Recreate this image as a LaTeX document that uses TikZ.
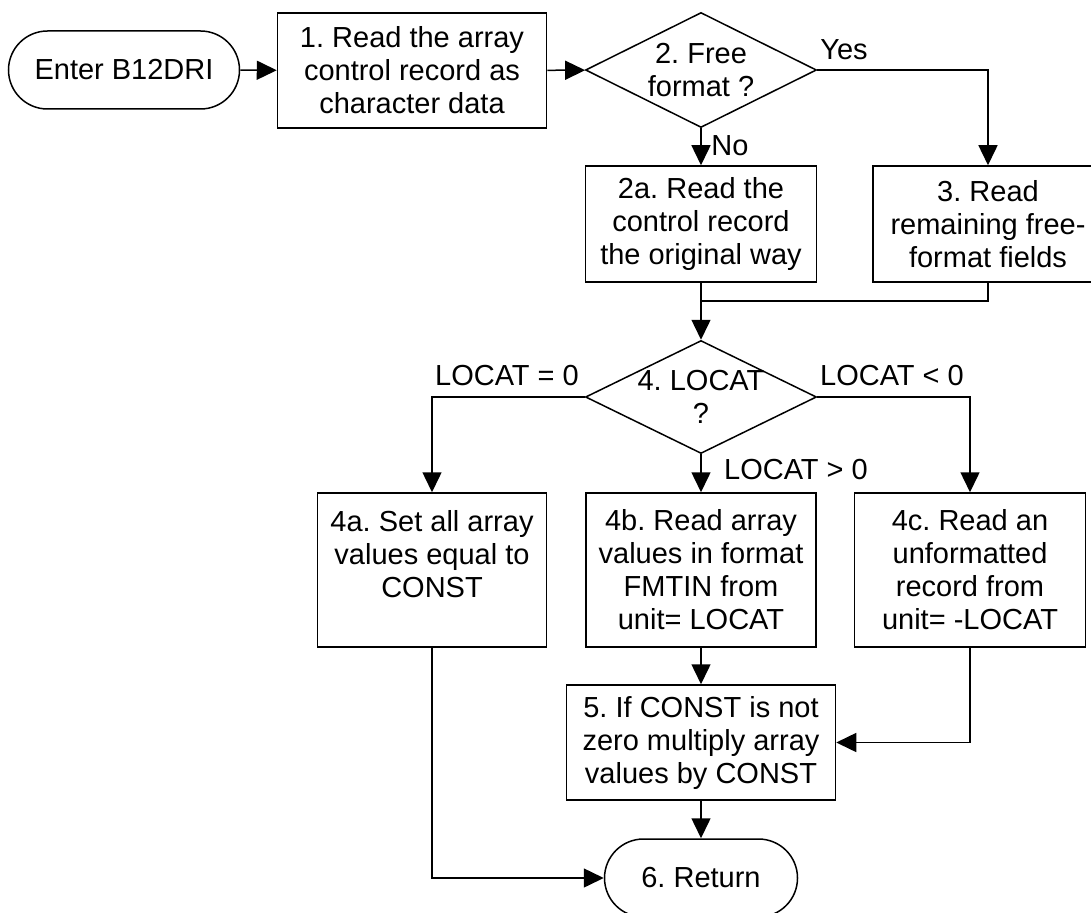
\documentclass[tikz,border=0pt]{standalone}
\usepackage{fontspec}
\setmainfont{Liberation Sans}
\usetikzlibrary{arrows.meta,shapes.geometric}

\begin{document}
\frenchspacing
\begin{tikzpicture}[x=1pt,y=-1pt,
  every node/.style={font=\fontsize{29}{33}\selectfont},
  box/.style={draw, line width=1.5pt, align=center, inner sep=0pt},
  proc/.style={box, rectangle},
  term/.style={box, rectangle, rounded corners=39pt, minimum height=78pt},
  decision/.style={box, diamond, minimum width=231pt, minimum height=115pt},
  flow/.style={line width=1.5pt, -{Triangle[length=20pt,width=19pt]}},
  link/.style={line width=1.5pt},
  lbl/.style={inner sep=0pt}
]
\useasboundingbox (0,0) rectangle (1091,912);
\clip (0,0) rectangle (1091,912);

% process nodes
\node[term, minimum width=231pt] (enter) at (124,70) {Enter B12DRI};
\node[proc, minimum width=269pt, minimum height=115pt] (n1) at (412,70.5)
  {1. Read the array\\control record as\\character data};
\node[decision, label={[align=center]center:2. Free\\format ?}] (d2) at (701,70) {};
\node[proc, minimum width=231pt, minimum height=116pt] (n2a) at (701,224)
  {2a. Read the\\control record\\the original way};
\node[proc, minimum width=230pt, minimum height=116pt] (n3) at (988,224)
  {3. Read\\remaining free-\\format fields};
\node[decision, minimum height=113pt, label={[align=center]center:4. LOCAT\\?}] (d4) at (701,397) {};
\node[proc, minimum width=229pt, minimum height=154pt] (n4a) at (432,570)
  {4a. Set all array\\values equal to\\CONST\\\mbox{}};
\node[proc, minimum width=230pt, minimum height=154pt] (n4b) at (701,570)
  {4b. Read array\\values in format\\FMTIN from\\unit= LOCAT};
\node[proc, minimum width=231pt, minimum height=154pt] (n4c) at (970,570)
  {4c. Read an\\unformatted\\record from\\unit= -LOCAT};
\node[proc, minimum width=269pt, minimum height=115pt] (n5) at (701,742.5)
  {5. If CONST is not\\zero multiply array\\values by CONST};
\node[term, minimum width=193pt] (ret) at (701,878) {6. Return};

% branch labels
\node[lbl] (yes) at (844,50) {Yes};
\node[lbl] (no) at (730,146) {No};
\node[lbl] (eq) at (507,376) {LOCAT = 0};
\node[lbl] (lt) at (892,376) {LOCAT < 0};
\node[lbl] (gt) at (796,470) {LOCAT > 0};

% connectors
\draw[flow] (enter) -- (n1);
\draw[flow] (n1) -- (d2);
\draw[flow] (d2.south) -- (n2a.north);
\draw[flow] (d2.east) -| (n3.north);
\coordinate (merge) at (701,301);
\draw[link] (n2a.south) -- (merge);
\draw[link] (n3.south) |- (merge);
\draw[flow] (merge) -- (d4.north);
\draw[flow] (d4.west) -| (n4a.north);
\draw[flow] (d4.east) -| (n4c.north);
\draw[flow] (d4.south) -- (n4b.north);
\draw[flow] (n4b.south) -- (n5.north);
\draw[flow] (n4c.south) |- (n5.east);
\draw[flow] (n5.south) -- (ret.north);
\draw[flow] (n4a.south) |- (ret.west);
\end{tikzpicture}
\end{document}
